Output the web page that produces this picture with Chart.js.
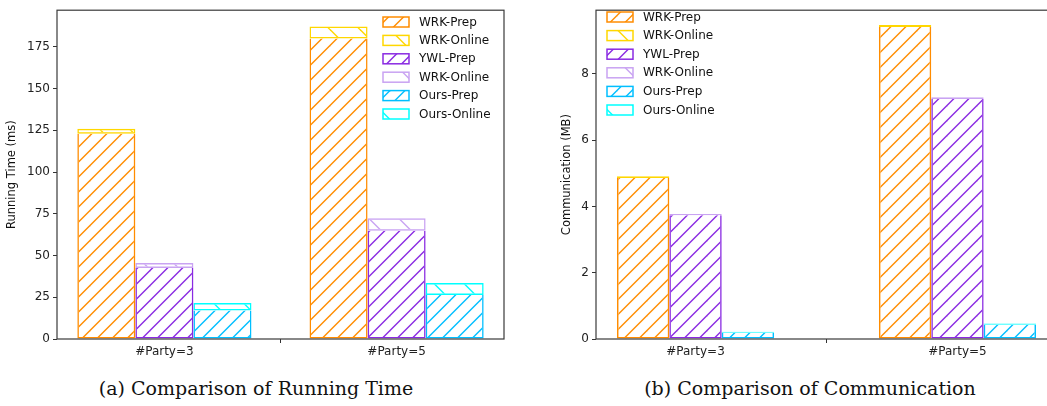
<!DOCTYPE html>
<html>
<head>
<meta charset="utf-8">
<script src="https://cdn.jsdelivr.net/npm/chart.js@4.4.1/dist/chart.umd.min.js"></script>
<style>
  html, body { margin: 0; padding: 0; background: #fff; }
  body { width: 1047px; height: 406px; overflow: hidden; position: relative; }
  .wrap { position: absolute; top: 0; }
  .cap { position: absolute; font-family: "DejaVu Serif", "Liberation Serif", serif; font-size: 19px; color: #111; white-space: nowrap; transform: translateX(-50%); }
</style>
</head>
<body>
<div class="wrap" style="left:0px;width:525px;height:370px;"><canvas id="c1"></canvas></div>
<div class="wrap" style="left:527px;width:540px;height:370px;"><canvas id="c2"></canvas></div>
<div class="cap" id="capA" style="left:256px;top:377px;"></div>
<div class="cap" id="capB" style="left:810px;top:377px;"></div>
<script>
// ---------- data ----------
const categories = ['#Party=3', '#Party=5'];
const seriesLabels = ['WRK-Prep', 'WRK-Online', 'YWL-Prep', 'WRK-Online', 'Ours-Prep', 'Ours-Online'];
const seriesStacks = ['WRK', 'WRK', 'YWL', 'YWL', 'Ours', 'Ours'];

// Running time (ms)
const timeWrkPrep = [123, 180];
const timeWrkOnline = [3, 7.3];
const timeYwlPrep = [42.5, 64.8];
const timeYwlOnline = [3, 7.5];
const timeOursPrep = [17.1, 26.4];
const timeOursOnline = [4.4, 7.1];

// Communication (MB)
const commWrkPrep = [4.86, 9.41];
const commWrkOnline = [0.05, 0.06];
const commYwlPrep = [3.73, 7.24];
const commYwlOnline = [0.04, 0.05];
const commOursPrep = [0.19, 0.43];
const commOursOnline = [0.03, 0.04];

const timeTicks = [0, 25, 50, 75, 100, 125, 150, 175];
const commTicks = [0, 2, 4, 6, 8];

const captionA = '(a) Comparison of Running Time';
const captionB = '(b) Comparison of Communication';
const yTitleA = 'Running Time (ms)';
const yTitleB = 'Communication (MB)';

// ---------- styles ----------
const colors = ['#FF8C00', '#FFD700', '#8A2BE2', '#C9A3F2', '#00BFFF', '#00FFFF'];
const hatchDir = ['/', '\\', '/', '\\', '/', '\\'];
const FONT = '"DejaVu Sans", sans-serif';

function makeHatch(color, dir, n) {
  const T = 30;
  const c = document.createElement('canvas');
  c.width = T; c.height = T;
  const g = c.getContext('2d');
  g.strokeStyle = color;
  g.lineWidth = 1.4;
  const step = T / n;
  for (let k = -n - 1; k <= n + 1; k++) {
    const x0 = k * step + 0.5;
    g.beginPath();
    if (dir === '/') { g.moveTo(x0 - 2, T + 2); g.lineTo(x0 + T + 2, -2); }
    else { g.moveTo(x0 - 2, -2); g.lineTo(x0 + T + 2, T + 2); }
    g.stroke();
  }
  return g.createPattern(c, 'repeat');
}

function buildDatasets(seriesValues) {
  return seriesValues.map((vals, i) => ({
    label: seriesLabels[i],
    stack: seriesStacks[i],
    data: vals.map((v, j) => ({ x: j, y: v })),
    backgroundColor: makeHatch(colors[i], hatchDir[i], hatchDir[i] === '/' ? 2 : 1),
    borderColor: colors[i],
    borderWidth: 1.5,
    borderSkipped: i % 2 === 0 ? 'end' : false
  }));
}

const framePlugin = {
  id: 'frame',
  afterDatasetsDraw(chart) {
    const a = chart.chartArea, ctx = chart.ctx;
    ctx.save();
    ctx.strokeStyle = '#3a3a3a';
    ctx.lineWidth = 1.2;
    ctx.strokeRect(a.left, a.top, a.right - a.left, a.bottom - a.top);
    ctx.restore();
  }
};

const legendPlugin = {
  id: 'boxLegend',
  afterDraw(chart, args, opts) {
    const ctx = chart.ctx;
    ctx.save();
    chart.data.datasets.forEach((ds, i) => {
      const cy = opts.y + i * opts.rowGap;
      const bx = opts.x, bw = 26, bh = 10;
      ctx.fillStyle = ds.backgroundColor;
      ctx.fillRect(bx, cy - bh / 2, bw, bh);
      ctx.strokeStyle = ds.borderColor;
      ctx.lineWidth = 1.5;
      ctx.strokeRect(bx, cy - bh / 2, bw, bh);
      ctx.fillStyle = '#111';
      ctx.font = '12px ' + FONT;
      ctx.textBaseline = 'middle';
      ctx.textAlign = 'left';
      ctx.fillText(ds.label, bx + 36, cy + 0.5);
    });
    ctx.restore();
  }
};

function makeChart(id, seriesValues, yTicks, yMax, xMin, xMax, catPct, yTitle, pad, yWidth, titlePad, legendPos) {
  return new Chart(document.getElementById(id), {
    type: 'bar',
    data: { datasets: buildDatasets(seriesValues) },
    plugins: [framePlugin, legendPlugin],
    options: {
      responsive: true,
      maintainAspectRatio: false,
      animation: false,
      devicePixelRatio: 1,
      layout: { padding: pad },
      categoryPercentage: catPct,
      barPercentage: 1.0,
      plugins: {
        legend: { display: false },
        tooltip: { enabled: false },
        boxLegend: legendPos
      },
      scales: {
        x: {
          type: 'linear',
          offset: false,
          min: xMin, max: xMax,
          afterBuildTicks: s => { s.ticks = categories.map((c, i) => ({ value: i })); },
          afterFit: s => { s.height = 31; },
          ticks: { callback: v => categories[v], font: { family: FONT, size: 12 }, color: '#222', padding: 2, maxRotation: 0, autoSkip: false },
          grid: { drawOnChartArea: false, drawTicks: true, tickLength: 4, color: '#333', tickWidth: 1 },
          border: { display: false }
        },
        y: {
          stacked: true,
          min: 0, max: yMax,
          afterBuildTicks: s => { s.ticks = yTicks.map(v => ({ value: v })); },
          afterFit: s => { s.width = yWidth; },
          ticks: { font: { family: FONT, size: 12 }, color: '#222', padding: 3 },
          grid: { drawOnChartArea: false, drawTicks: true, tickLength: 4, color: '#333', tickWidth: 1 },
          border: { display: false },
          title: { display: true, text: yTitle, font: { family: FONT, size: 11.5 }, color: '#111', padding: { top: titlePad, bottom: 0 } }
        }
      }
    }
  });
}

makeChart('c1',
  [timeWrkPrep, timeWrkOnline, timeYwlPrep, timeYwlOnline, timeOursPrep, timeOursOnline],
  timeTicks, 197, -0.4625, 1.4625, 0.75, yTitleA,
  { left: 0, right: 21, top: 5.7, bottom: 0 }, 57, 5,
  { x: 383, y: 22, rowGap: 18.4 });

makeChart('c2',
  [commWrkPrep, commWrkOnline, commYwlPrep, commYwlOnline, commOursPrep, commOursOnline],
  commTicks, 9.92, -0.38, 1.38, 0.6, yTitleB,
  { left: 0, right: 10, top: 1, bottom: 0 }, 69, 33,
  { x: 80, y: 17, rowGap: 18.6 });

document.getElementById('capA').textContent = captionA;
document.getElementById('capB').textContent = captionB;
</script>
</body>
</html>
